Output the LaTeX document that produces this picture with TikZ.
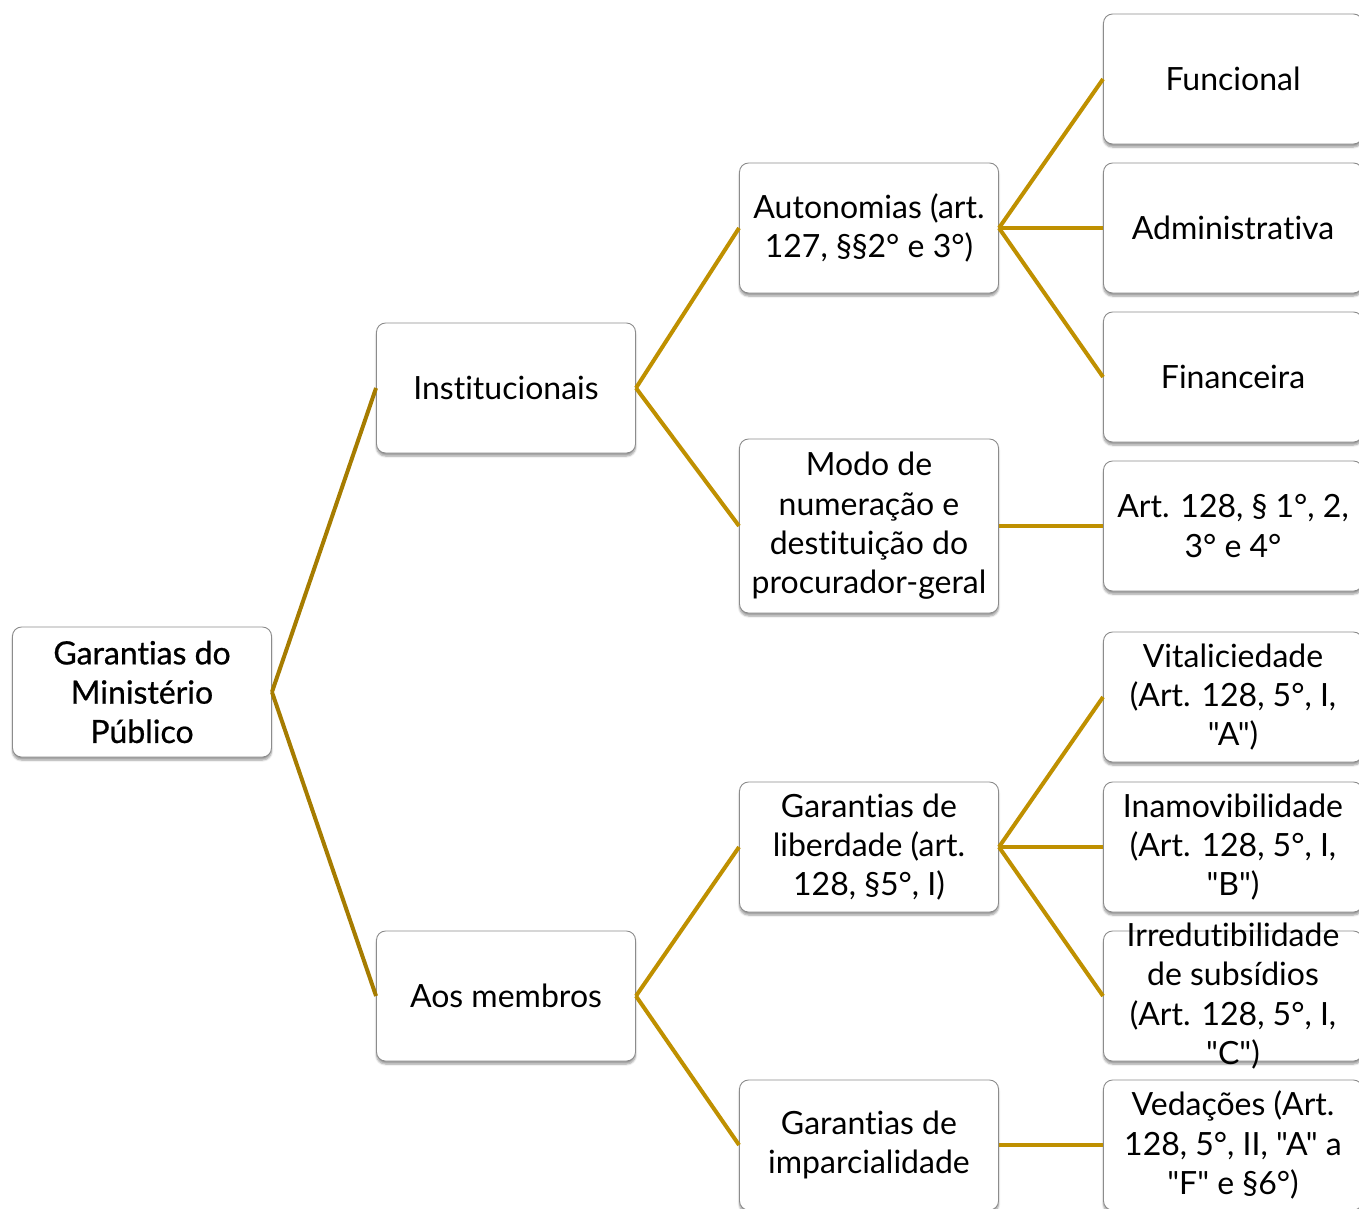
\documentclass[tikz,border=0pt]{standalone}
\usepackage{fontspec}
\setmainfont{Lato}[Ligatures={TeXOff,CommonOff}]
\newfontfamily\rootfont{Lato}[Ligatures={TeXOff,CommonOff}, FakeBold=0.7]
\usetikzlibrary{shadows.blur}

\definecolor{linkdark}{HTML}{A67C00}
\definecolor{linklight}{HTML}{BF9000}
\definecolor{boxedge}{HTML}{8C8C8C}

\tikzset{
  box/.style={draw=boxedge, line width=0.9pt, rounded corners=9pt, fill=white,
    minimum width=259pt, minimum height=130pt, inner sep=2pt, align=center,
    font=\fontsize{32}{39.3}\selectfont,
    blur shadow={shadow xshift=0pt, shadow yshift=-3pt, shadow blur steps=6,
      shadow blur extra rounding=2pt, shadow opacity=40}},
  boxtext/.style={align=center, inner sep=0pt, font=\fontsize{32}{39.3}\selectfont},
  link/.style={line width=4pt, draw=linklight},
  rootlink/.style={line width=4pt, draw=linkdark},
}

\begin{document}
\begin{tikzpicture}[x=1pt,y=-1pt]
  \useasboundingbox (0,0) rectangle (1359,1208);

  % root
  \node[box, font=\rootfont\fontsize{32}{39.3}\selectfont] (root) at (142,692) {Garantias do\\Ministério\\Público};

  % second level
  \node[box] (inst) at (506,388) {Institucionais};
  \node[box] (memb) at (506,996) {Aos membros};

  % third level
  \node[box] (auto) at (869,228) {Autonomias (art.\\127, §§2° e 3°)};
  \node[box, minimum height=174pt] (modo) at (869,526) {Modo de\\numeração e\\destituição do\\procurador-geral};
  \node[box] (libe) at (869,847) {Garantias de\\liberdade (art.\\128, §5°, I)};
  \node[box] (impa) at (869,1145) {Garantias de\\imparcialidade};

  % leaves
  \node[box] (func) at (1233,79) {Funcional};
  \node[box] (admi) at (1233,228) {Administrativa};
  \node[box] (fina) at (1233,377) {Financeira};
  \node[box] (art128) at (1233,526) {Art. 128, § 1°, 2,\\3° e 4°};
  \node[box] (vita) at (1233,697) {Vitaliciedade\\(Art. 128, 5°, I,\\"A")};
  \node[box] (inam) at (1233,847) {Inamovibilidade\\(Art. 128, 5°, I,\\"B")};
  \node[box] (irre) at (1233,996) {};
  \node[boxtext] (irretext) at (irre.center) {Irredutibilidade\\de subsídios\\(Art. 128, 5°, I,\\"C")};
  \node[box] (veda) at (1233,1145) {Vedações (Art.\\128, 5°, II, "A" a\\"F" e §6°)};

  % connectors
  \draw[rootlink] (root.east) -- (inst.west);
  \draw[rootlink] (root.east) -- (memb.west);

  \draw[link] (inst.east) -- (auto.west);
  \draw[link] (inst.east) -- (modo.west);
  \draw[link] (memb.east) -- (libe.west);
  \draw[link] (memb.east) -- (impa.west);

  \draw[link] (auto.east) -- (func.west);
  \draw[link] (auto.east) -- (admi.west);
  \draw[link] (auto.east) -- (fina.west);
  \draw[link] (modo.east) -- (art128.west);
  \draw[link] (libe.east) -- (vita.west);
  \draw[link] (libe.east) -- (inam.west);
  \draw[link] (libe.east) -- (irre.west);
  \draw[link] (impa.east) -- (veda.west);
\end{tikzpicture}
\end{document}
